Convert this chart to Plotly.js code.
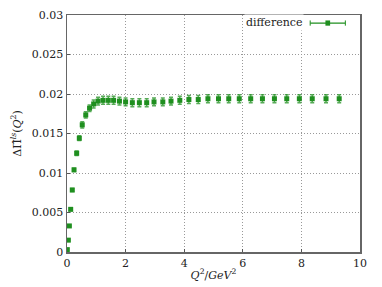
<!DOCTYPE html>
<html>
<head>
<meta charset="utf-8">
<script src="https://cdn.plot.ly/plotly-3.0.1.min.js"></script>
<style>html,body{margin:0;padding:0;background:#fff;}#plot{width:382px;height:287px;}</style>
</head>
<body>
<div id="plot"></div>
<script>
// Q^2 in GeV^2
const q2 = [0.01, 0.045, 0.08, 0.126, 0.18, 0.24, 0.33, 0.42, 0.52, 0.64, 0.77, 0.91, 1.06, 1.23, 1.41, 1.59, 1.79, 2.0, 2.23, 2.47, 2.72, 2.97, 3.27, 3.55, 3.85, 4.16, 4.48, 4.81, 5.17, 5.52, 5.88, 6.27, 6.67, 7.08, 7.5, 7.93, 8.37, 8.84, 9.29];
const diff = [0.0003, 0.0015, 0.0033, 0.0054, 0.00785, 0.0104, 0.0125, 0.0144, 0.0161, 0.01735, 0.0182, 0.01874, 0.0191, 0.0192, 0.0192, 0.0192, 0.0191, 0.0190, 0.0189, 0.0189, 0.0189, 0.0190, 0.0190, 0.0191, 0.0192, 0.0193, 0.0193, 0.0194, 0.0194, 0.0194, 0.0194, 0.0194, 0.0194, 0.0194, 0.0194, 0.0194, 0.0194, 0.0194, 0.0194];
const err = [0.0001, 0.0001, 0.0001, 0.00015, 0.0002, 0.0002, 0.0003, 0.0003, 0.0004, 0.0004, 0.0004, 0.0005, 0.0005, 0.0005, 0.0005, 0.0005, 0.0005, 0.0005, 0.0005, 0.0005, 0.0005, 0.0005, 0.0005, 0.0005, 0.0005, 0.0005, 0.0005, 0.0005, 0.0005, 0.0005, 0.0005, 0.0005, 0.0005, 0.0005, 0.0005, 0.0005, 0.0005, 0.0005, 0.0005];
const xTicks = [0, 2, 4, 6, 8, 10];
const yTicks = [0, 0.005, 0.01, 0.015, 0.02, 0.025, 0.03];
const yTickText = ['0', '0.005', '0.01', '0.015', '0.02', '0.025', '0.03'];
const seriesName = 'difference';

const green = '#1f8f1f';
const font = {family: '"DejaVu Serif", serif', size: 11, color: '#222'};

const trace = {
  x: q2, y: diff, type: 'scatter', mode: 'markers', name: seriesName,
  marker: {symbol: 'square', size: 5, color: green},
  error_y: {type: 'data', array: err, visible: true, color: 'rgba(31,143,31,0.75)', thickness: 1.5, width: 2},
  showlegend: false
};

const axisCommon = {
  showline: true, mirror: true, linecolor: '#666', linewidth: 1.5,
  showgrid: true, gridcolor: '#999', griddash: '1px,2px', gridwidth: 1,
  zeroline: false, ticks: 'inside', ticklen: 3, tickcolor: '#555',
  tickfont: font
};

const layout = {
  width: 382, height: 287,
  margin: {l: 67, r: 22, t: 15, b: 35},
  paper_bgcolor: '#fff', plot_bgcolor: '#fff',
  font: font,
  xaxis: Object.assign({}, axisCommon, {
    range: [0, 10], tickvals: xTicks, ticktext: xTicks.map(String),
    title: {text: '<i>Q</i><sup>2</sup>/<i>GeV</i><sup>2</sup>', font: font, standoff: 2}
  }),
  yaxis: Object.assign({}, axisCommon, {
    range: [0, 0.03], tickvals: yTicks, ticktext: yTickText,
    title: {text: 'ΔΠ̂<sup><i>ls</i></sup>(<i>Q</i><sup>2</sup>)', font: font, standoff: 8}
  }),
  annotations: [{
    xref: 'paper', yref: 'paper', x: 0.81, y: 0.968, xanchor: 'right', yanchor: 'middle',
    text: seriesName, showarrow: false, font: font, bgcolor: '#fff'
  }],
  shapes: [
    {type: 'rect', xref: 'paper', yref: 'paper', x0: 0.815, x1: 0.99, y0: 0.94, y1: 0.995, fillcolor: '#fff', line: {width: 0}, layer: 'above'},
    {type: 'line', xref: 'paper', yref: 'paper', x0: 0.83, x1: 0.95, y0: 0.966, y1: 0.966, line: {color: green, width: 1.2}, layer: 'above'},
    {type: 'line', xref: 'paper', yref: 'paper', x0: 0.83, x1: 0.83, y0: 0.955, y1: 0.977, line: {color: green, width: 1}, layer: 'above'},
    {type: 'line', xref: 'paper', yref: 'paper', x0: 0.95, x1: 0.95, y0: 0.955, y1: 0.977, line: {color: green, width: 1}, layer: 'above'},
    {type: 'rect', xref: 'paper', yref: 'paper', x0: 0.882, x1: 0.898, y0: 0.955, y1: 0.977, fillcolor: green, line: {width: 0}, layer: 'above'}
  ]
};

Plotly.newPlot('plot', [trace], layout, {displayModeBar: false, staticPlot: true});
</script>
</body>
</html>
